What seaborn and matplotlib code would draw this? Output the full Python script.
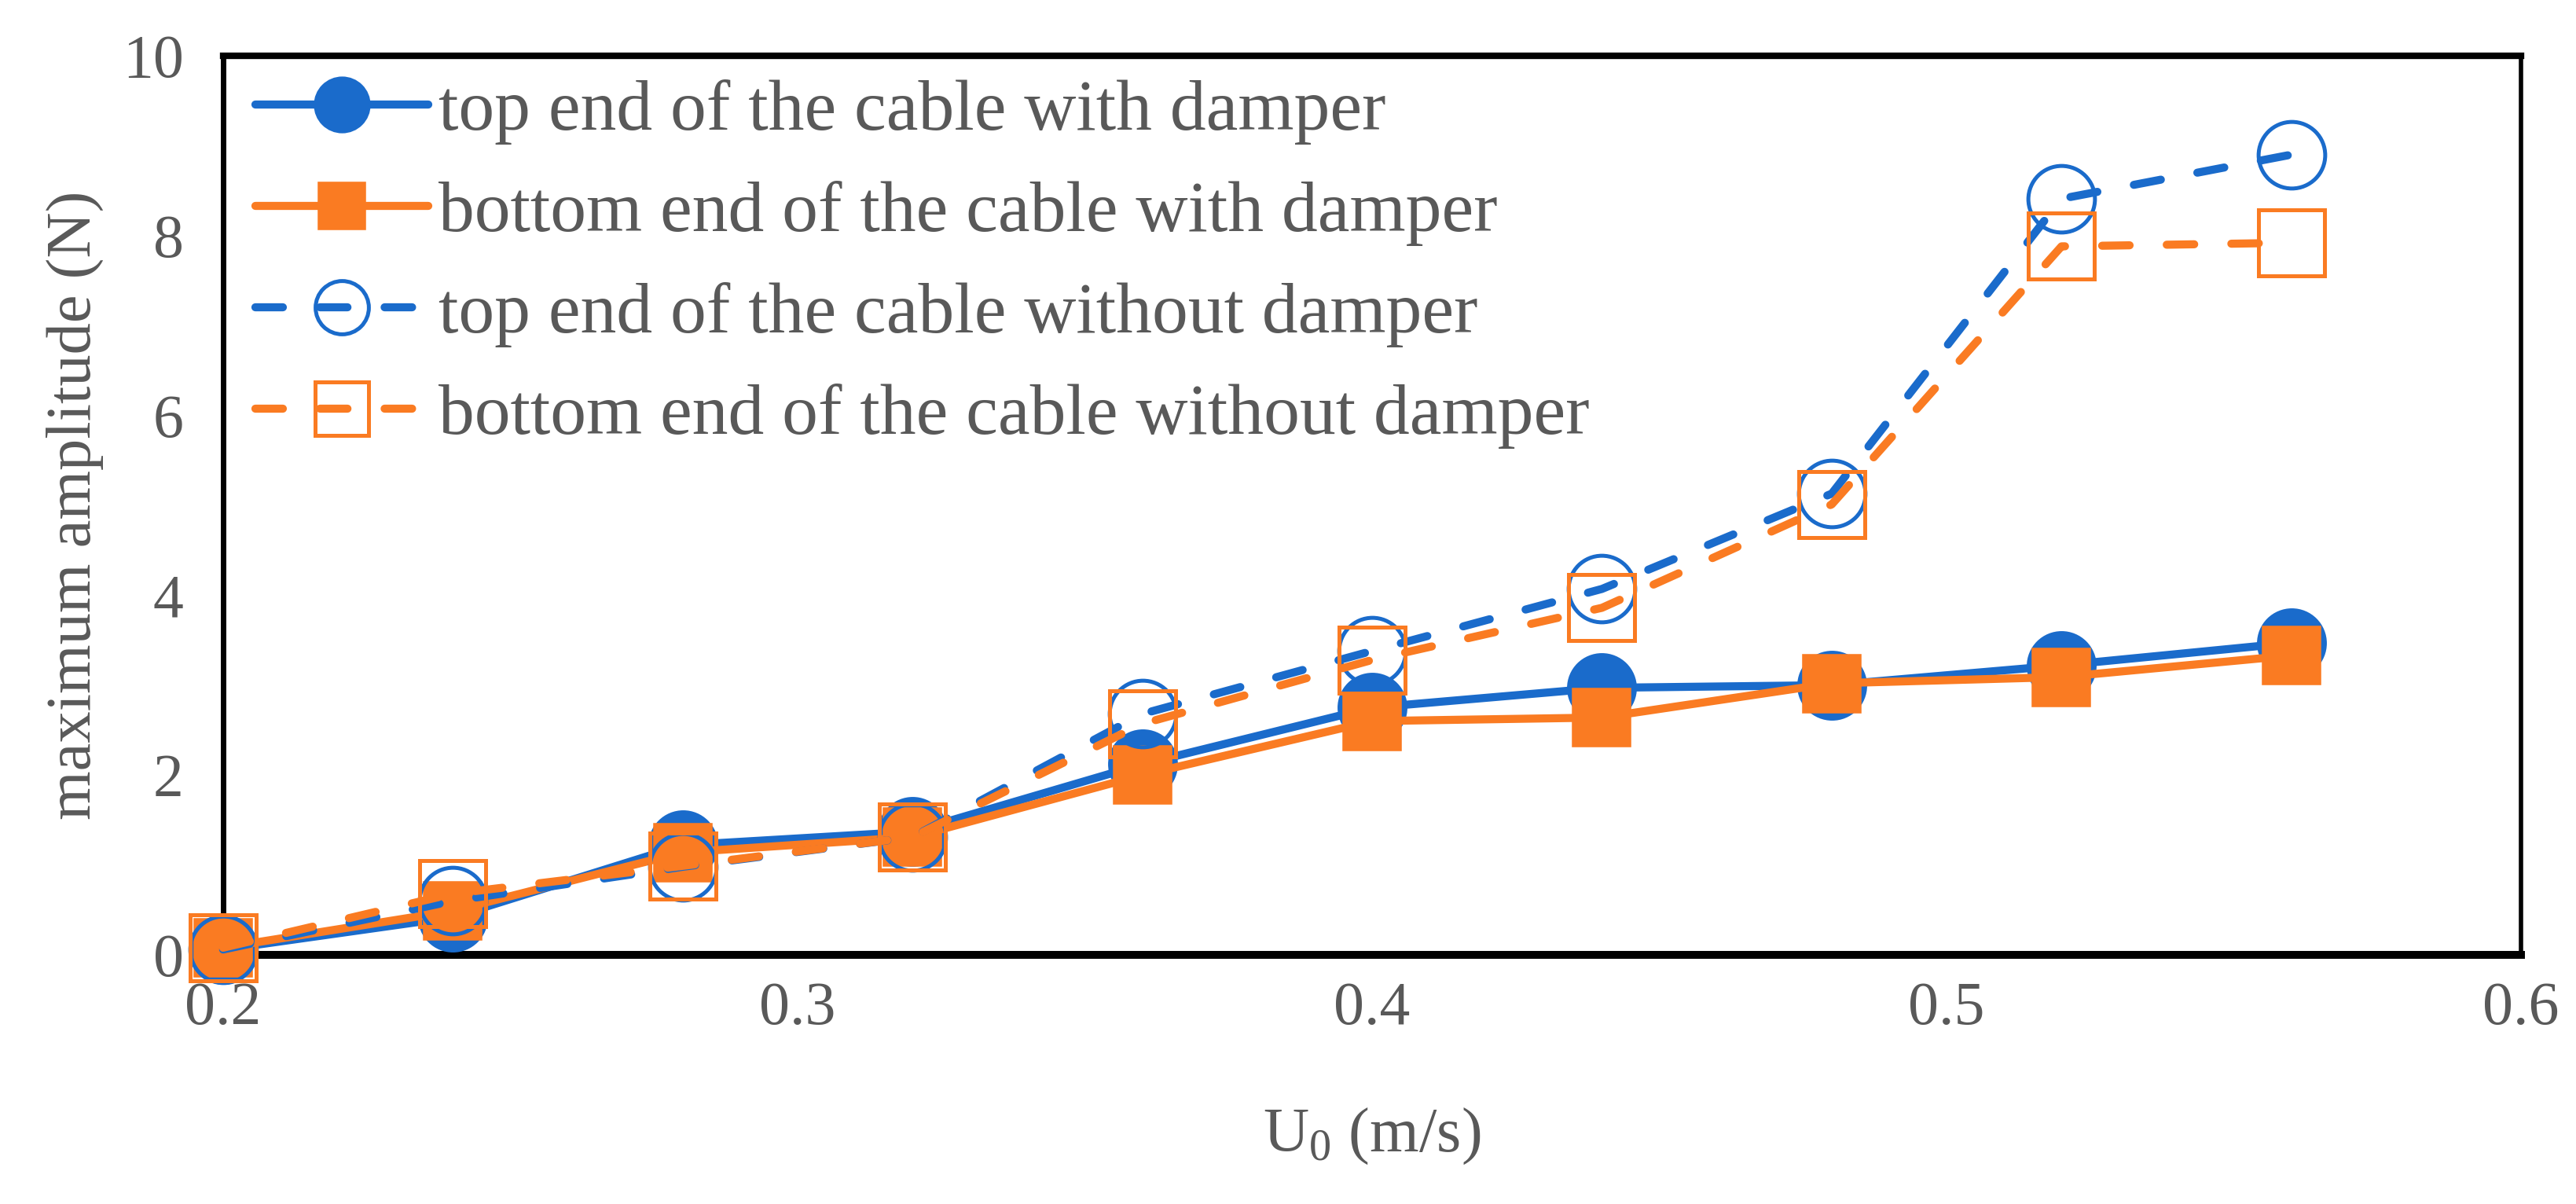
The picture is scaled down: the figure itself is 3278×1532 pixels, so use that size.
import matplotlib
matplotlib.use("Agg")
import matplotlib.pyplot as plt
import seaborn as sns
import pandas as pd

# ---------------- data ----------------
u0 = [0.20, 0.24, 0.28, 0.32, 0.36, 0.40, 0.44, 0.48, 0.52, 0.56]
top_with = [0.06, 0.42, 1.22, 1.37, 2.12, 2.75, 2.97, 3.00, 3.22, 3.47]
bottom_with = [0.08, 0.49, 1.14, 1.31, 2.00, 2.60, 2.64, 3.02, 3.09, 3.33]
top_without = [0.06, 0.60, 0.98, 1.31, 2.68, 3.38, 4.07, 5.13, 8.41, 8.90]
bottom_without = [0.08, 0.68, 0.99, 1.31, 2.57, 3.28, 3.86, 5.01, 7.88, 7.92]

labels = ["top end of the cable with damper",
          "bottom end of the cable with damper",
          "top end of the cable without damper",
          "bottom end of the cable without damper"]

blue = "#1A6BCB"
orange = "#FA7B22"
grey = "#595959"

df = pd.DataFrame({"U0": u0,
                   labels[0]: top_with,
                   labels[1]: bottom_with,
                   labels[2]: top_without,
                   labels[3]: bottom_without})

sns.set_style("white")
plt.rcParams["font.family"] = ["Liberation Serif", "DejaVu Serif"]
plt.rcParams["mathtext.fontset"] = "custom"
plt.rcParams["mathtext.rm"] = "Liberation Serif"
plt.rcParams["mathtext.it"] = "Liberation Serif:italic"

fig = plt.figure(figsize=(16.39, 7.66), dpi=200)
ax = fig.add_axes([0.0866, 0.2069, 0.8921, 0.7468])

dash = (3.4, 4.6)

# solid lines, filled markers
sns.lineplot(data=df, x="U0", y=labels[0], ax=ax, color=blue, lw=3.7,
             marker="o", markersize=30, markeredgewidth=2,
             markerfacecolor=blue, markeredgecolor=blue, label=labels[0])
sns.lineplot(data=df, x="U0", y=labels[1], ax=ax, color=orange, lw=3.7,
             marker="s", markersize=25.5, markeredgewidth=2,
             markerfacecolor=orange, markeredgecolor=orange, label=labels[1])
# dashed lines, open markers
sns.lineplot(data=df, x="U0", y=labels[2], ax=ax, color=blue, lw=3.7,
             marker="o", markersize=30.5, markeredgewidth=1.8,
             markerfacecolor="none", markeredgecolor=blue, label=labels[2])
sns.lineplot(data=df, x="U0", y=labels[3], ax=ax, color=orange, lw=3.7,
             marker="s", markersize=30.5, markeredgewidth=1.8,
             markerfacecolor="none", markeredgecolor=orange, label=labels[3])

for i, ln in enumerate(ax.get_lines()[:4]):
    ln.set_clip_on(False)
    ln.set_zorder(3 + i)
    if i >= 2:
        ln.set_dashes(dash)
        ln.set_dash_capstyle("round")

ax.set_xlim(0.2, 0.6)
ax.set_ylim(0, 10)
ax.set_xticks([0.2, 0.3, 0.4, 0.5, 0.6])
ax.set_xticklabels(["0.2", "0.3", "0.4", "0.5", "0.6"])
ax.set_yticks([0, 2, 4, 6, 8, 10])

ax.tick_params(axis="both", direction="in", length=9, width=1.5,
               colors="black", labelcolor=grey, labelsize=28)
ax.tick_params(axis="x", pad=12)
ax.tick_params(axis="y", pad=18)

widths = {"left": 2.5, "right": 2.0, "top": 3.0, "bottom": 3.6}
for side, w in widths.items():
    ax.spines[side].set_visible(True)
    ax.spines[side].set_color("black")
    ax.spines[side].set_linewidth(w)

ax.set_xlabel(r"U$_{\mathrm{0}}$ (m/s)", fontsize=29, color=grey)
ax.set_ylabel("maximum amplitude (N)", fontsize=29, color=grey)
ax.xaxis.set_label_coords(0.5, -0.168)
ax.yaxis.set_label_coords(-0.052, 0.5)

leg = ax.legend(loc="upper left", bbox_to_anchor=(-0.008, 1.03), frameon=False,
                fontsize=33, handlelength=2.4, handletextpad=0.15,
                labelspacing=0.5, markerscale=0.8, borderaxespad=0.3)
for t in leg.get_texts():
    t.set_color(grey)

fig.savefig("out.png", dpi=200)
